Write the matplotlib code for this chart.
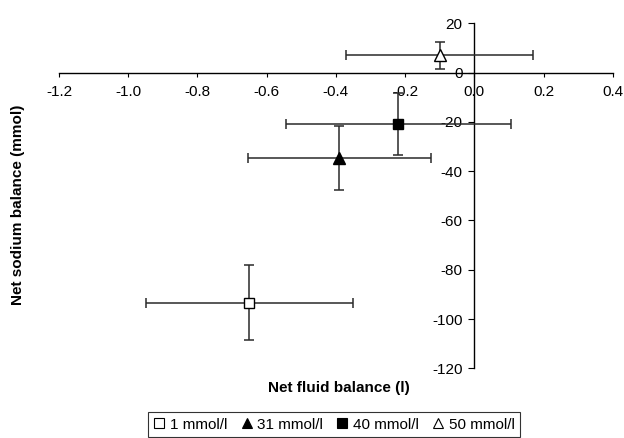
import matplotlib
matplotlib.use("Agg")
import matplotlib.pyplot as plt
from matplotlib.lines import Line2D

plt.rcParams['font.family'] = ['Liberation Sans', 'DejaVu Sans']

labels = ["1 mmol/l", "31 mmol/l", "40 mmol/l", "50 mmol/l"]
x_vals = [-0.65, -0.39, -0.22, -0.10]
x_errs = [0.30, 0.265, 0.325, 0.27]
y_vals = [-93.3, -34.5, -20.8, 7.0]
y_errs = [15.3, 13.0, 12.7, 5.5]
markers = ['s', '^', 's', '^']
faces = ['white', 'black', 'black', 'white']

x_ticks = [-1.2, -1.0, -0.8, -0.6, -0.4, -0.2, 0.0, 0.2, 0.4]
x_ticklabels = ["-1.2", "-1.0", "-0.8", "-0.6", "-0.4", "-0.2", "0.0", "0.2", "0.4"]
y_ticks = [20, 0, -20, -40, -60, -80, -100, -120]
y_ticklabels = ["20", "0", "-20", "-40", "-60", "-80", "-100", "-120"]

fig = plt.figure(figsize=(6.24, 4.38), dpi=100)
ax = fig.add_axes([0.0946, 0.1591, 0.982 - 0.0946, 0.9466 - 0.1591])

for x, xe, y, ye, m, fc in zip(x_vals, x_errs, y_vals, y_errs, markers, faces):
    ax.errorbar(x, y, xerr=xe, yerr=ye, fmt='none', ecolor='#2a2a2a',
                elinewidth=1.1, capsize=3.6, capthick=1.1, zorder=3)
    ax.plot([x], [y], marker=m, markersize=7 if m == 's' else 8,
            markerfacecolor=fc, markeredgecolor='black', markeredgewidth=1.0,
            linestyle='none', zorder=4)

ax.set_xlim(-1.2, 0.4)
ax.set_ylim(-120, 20)

ax.spines['left'].set_position(('data', 0))
ax.spines['bottom'].set_position(('data', 0))
ax.spines['right'].set_visible(False)
ax.spines['top'].set_visible(False)
for s in ('left', 'bottom'):
    ax.spines[s].set_linewidth(1.0)
    ax.spines[s].set_color('black')

ax.set_xticks(x_ticks)
ax.set_xticklabels(x_ticklabels)
ax.set_yticks(y_ticks)
ax.set_yticklabels(y_ticklabels)
ax.tick_params(axis='x', direction='out', length=3, width=0.8, pad=6, labelsize=11)
ax.tick_params(axis='y', direction='out', length=4.5, width=0.8, pad=4, labelsize=11)

fig.text(339 / 624, 1 - 388 / 438, "Net fluid balance (l)", ha='center', va='center',
         fontsize=11, fontweight='bold')
fig.text(18 / 624, 1 - 205 / 438, "Net sodium balance (mmol)", ha='center', va='center',
         rotation=90, fontsize=11, fontweight='bold')

handles = [Line2D([], [], marker=m, markersize=7, markerfacecolor=fc,
                  markeredgecolor='black', markeredgewidth=0.8, linestyle='none')
           for m, fc in zip(markers, faces)]
leg = fig.legend(handles, labels, loc='upper center', bbox_to_anchor=(0.535, 0.059),
                 ncol=4, frameon=True, fancybox=False, fontsize=11,
                 handlelength=0.8, handletextpad=0.3, columnspacing=0.85,
                 borderpad=0.35, borderaxespad=0)
leg.get_frame().set_edgecolor('black')
leg.get_frame().set_linewidth(0.8)

fig.savefig("out.png", dpi=100)
